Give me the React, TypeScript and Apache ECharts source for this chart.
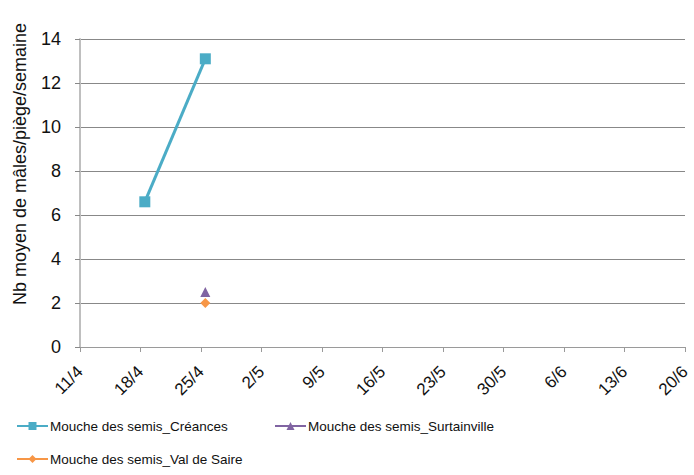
import React, { useEffect, useRef } from "react";
import * as echarts from "echarts";

// Week tick labels (x axis, one tick every 7 days starting 11/4)
const weekLabels = ["11/4", "18/4", "25/4", "2/5", "9/5", "16/5", "23/5", "30/5", "6/6", "13/6", "20/6"];
const startDate = "2016-04-11T00:00";

// Sampling dates and values (mean number of males per trap per week)
const creancesDates = ["2016-04-18T12:00", "2016-04-25T12:00"];
const creancesValues = [6.6, 13.1];
const surtainvilleDates = ["2016-04-25T12:00"];
const surtainvilleValues = [2.5];
const valDeSaireDates = ["2016-04-25T12:00"];
const valDeSaireValues = [2.0];

const seriesNames = [
  "Mouche des semis_Créances",
  "Mouche des semis_Surtainville",
  "Mouche des semis_Val de Saire",
];
const yTitle = "Nb moyen de mâles/piège/semaine";

const DAY = 24 * 3600 * 1000;
const toDay = (s: string) => (new Date(s).getTime() - new Date(startDate).getTime()) / DAY;
const pairs = (dates: string[], vals: number[]) => dates.map((d, i) => [toDay(d), vals[i]]);

const FONT = "'Liberation Sans', Arial, sans-serif";

export default function App() {
  const ref = useRef<HTMLDivElement>(null);
  useEffect(() => {
    if (!ref.current) return;
    const chart = echarts.init(ref.current, null, { renderer: "svg" });
    const legendText = { fontFamily: FONT, fontSize: 13.5, color: "#111", padding: [0, 0, 0, -3] };
    const legendBase = { itemWidth: 31, itemHeight: 10, padding: 0, textStyle: legendText };
    chart.setOption({
      animation: false,
      textStyle: { fontFamily: FONT },
      grid: { left: 80, right: 9, top: 39, bottom: 128 },
      xAxis: {
        type: "value",
        min: 0,
        max: (weekLabels.length - 1) * 7,
        interval: 7,
        splitLine: { show: false },
        axisLine: { show: true, lineStyle: { color: "#9a9a9a", width: 1 } },
        axisTick: { show: true, length: 5, lineStyle: { color: "#9a9a9a" } },
        axisLabel: {
          rotate: 45,
          margin: 22,
          fontFamily: FONT,
          fontSize: 17,
          color: "#111",
          formatter: (v: number) => weekLabels[Math.round(v / 7)] ?? "",
        },
      },
      yAxis: {
        type: "value",
        min: 0,
        max: 14,
        interval: 2,
        axisLine: { show: true, lineStyle: { color: "#bfbfbf", width: 2 } },
        axisTick: { show: true, length: 5, lineStyle: { color: "#888" } },
        splitLine: { show: true, lineStyle: { color: "#888", width: 1 } },
        axisLabel: { fontFamily: FONT, fontSize: 18, color: "#111", margin: 19 },
      },
      legend: [
        { ...legendBase, data: [seriesNames[0]], left: 16, top: 419 },
        { ...legendBase, data: [seriesNames[1]], left: 274, top: 419 },
        { ...legendBase, data: [seriesNames[2]], left: 16, top: 452 },
      ],
      graphic: [
        {
          type: "text",
          x: 20,
          y: 164,
          rotation: Math.PI / 2,
          style: {
            text: yTitle,
            fontFamily: FONT,
            fontSize: 18,
            fill: "#111",
            align: "center",
            verticalAlign: "middle",
          },
        },
      ],
      series: [
        {
          name: seriesNames[0],
          type: "line",
          data: pairs(creancesDates, creancesValues),
          symbol: "rect",
          symbolSize: 11,
          itemStyle: { color: "#4BACC6" },
          lineStyle: { color: "#4BACC6", width: 3 },
        },
        {
          name: seriesNames[1],
          type: "line",
          data: pairs(surtainvilleDates, surtainvilleValues),
          symbol: "triangle",
          symbolSize: 10,
          itemStyle: { color: "#8064A2" },
          lineStyle: { color: "#8064A2", width: 3 },
        },
        {
          name: seriesNames[2],
          type: "line",
          data: pairs(valDeSaireDates, valDeSaireValues),
          symbol: "diamond",
          symbolSize: 10,
          itemStyle: { color: "#F79646" },
          lineStyle: { color: "#F79646", width: 3 },
        },
      ],
    });
    return () => chart.dispose();
  }, []);
  return <div ref={ref} style={{ width: 694, height: 475, position: "absolute", left: 0, top: 0 }} />;
}
